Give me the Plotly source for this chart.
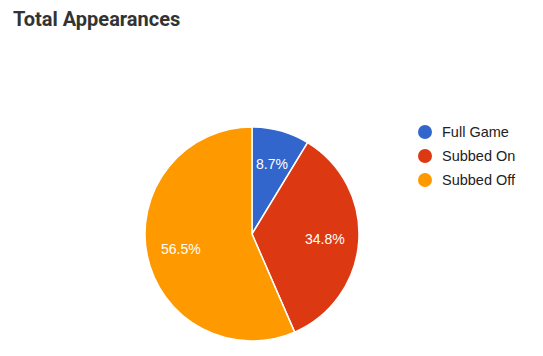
import math
import plotly.graph_objects as go

labels = ["Full Game", "Subbed On", "Subbed Off"]
values = [2, 8, 13]
colors = ["#3366CC", "#DC3912", "#FF9900"]
title = "Total Appearances"

# page body has an 8px margin: figure sized to fit the 543x356 window
OFF = 8
W, H = 543 - 2 * OFF, 356 - 2 * OFF


def px(sx):
    return (sx - OFF) / W


def py(sy):
    return 1 - (sy - OFF) / H


cx, cy, R = 252, 234, 107

fig = go.Figure()
fig.add_trace(go.Pie(
    labels=labels, values=values, sort=False, direction="clockwise", rotation=0,
    marker=dict(colors=colors, line=dict(color="white", width=1.5)),
    textinfo="none",
    domain=dict(x=[px(cx - R), px(cx + R)], y=[py(cy + R), py(cy - R)]),
    showlegend=False, hoverinfo="label+value+percent",
))

annotations = [dict(text="<b>" + title + "</b>", x=px(11), y=py(18.5), xref="paper", yref="paper",
                    xanchor="left", yanchor="middle", showarrow=False,
                    font=dict(family="Roboto", size=20, color="#333333"))]

# slice labels: percentage placed along each slice's mid-angle
total = sum(values)
cum = 0
for v in values:
    frac = v / total
    mid = (cum + frac / 2) * 2 * math.pi
    cum += frac
    r = 0.68 * R
    lx = cx + r * math.sin(mid)
    ly = cy - r * math.cos(mid)
    annotations.append(dict(text=f"{frac * 100:.1f}%", x=px(lx), y=py(ly), xref="paper", yref="paper",
                            xanchor="center", yanchor="middle", showarrow=False,
                            font=dict(family="Liberation Sans, Arial", size=14, color="white")))

shapes = []
for i, (lab, col) in enumerate(zip(labels, colors)):
    ly = 132 + 24 * i
    shapes.append(dict(type="circle", xref="paper", yref="paper",
                       x0=px(425 - 7), x1=px(425 + 7),
                       y0=py(ly + 7), y1=py(ly - 7),
                       fillcolor=col, line=dict(width=0)))
    annotations.append(dict(text=lab, x=px(440), y=py(ly), xref="paper", yref="paper",
                            xanchor="left", yanchor="middle", showarrow=False,
                            font=dict(family="Liberation Sans, Arial", size=14.5, color="#222222")))

fig.update_layout(width=W, height=H, margin=dict(l=0, r=0, t=0, b=0),
                  paper_bgcolor="white", plot_bgcolor="white",
                  shapes=shapes, annotations=annotations)
fig.write_html("out.html")
